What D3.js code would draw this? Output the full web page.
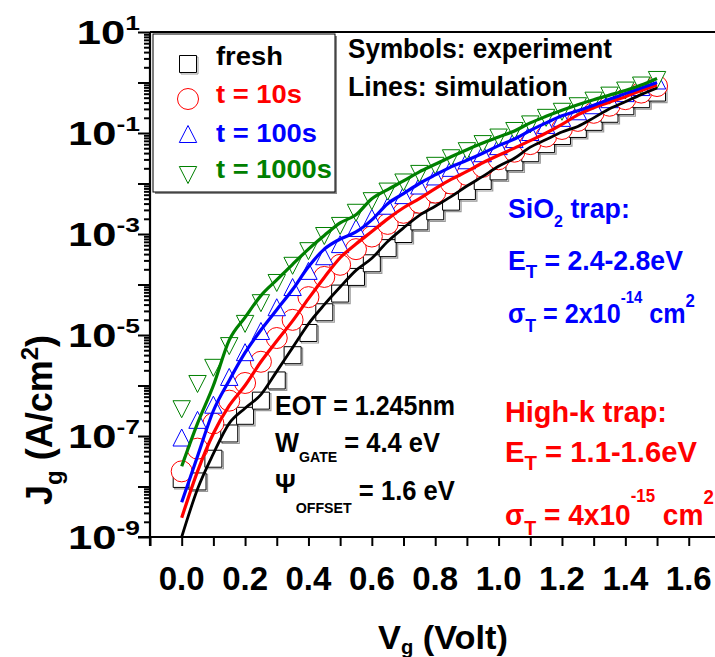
<!DOCTYPE html>
<html>
<head>
<meta charset="utf-8">
<script src="https://cdn.jsdelivr.net/npm/d3@7/dist/d3.min.js"></script>
<style>
  body { margin: 0; background: #fff; }
  text { font-family: "Liberation Sans", Arial, sans-serif; font-weight: bold; }
</style>
</head>
<body>
<svg id="chart" width="715" height="657"></svg>
<script>
// gate voltage (V) of every sample
const voltages = [0.00, 0.05, 0.10, 0.15, 0.20, 0.25, 0.30, 0.35, 0.40, 0.45,
  0.50, 0.55, 0.60, 0.65, 0.70, 0.75, 0.80, 0.85, 0.90, 0.95,
  1.00, 1.05, 1.10, 1.15, 1.20, 1.25, 1.30, 1.35, 1.40, 1.45, 1.50];

// log10(Jg), simulation lines
const simFresh = [-9.00, -8.05, -7.35, -6.75, -6.45, -6.18, -5.72, -5.25, -4.78, -4.40,
  -4.05, -3.72, -3.48, -3.15, -2.88, -2.63, -2.45, -2.26, -2.05, -1.86,
  -1.66, -1.50, -1.28, -1.13, -0.98, -0.87, -0.70, -0.52, -0.38, -0.24, -0.11];
const sim10 = [-8.62, -7.70, -6.95, -6.40, -6.00, -5.53, -5.12, -4.72, -4.28, -3.86,
  -3.47, -3.20, -2.95, -2.70, -2.48, -2.30, -2.10, -1.92, -1.76, -1.59,
  -1.44, -1.30, -1.15, -1.00, -0.83, -0.64, -0.50, -0.39, -0.28, -0.16, -0.05];
const sim100 = [-8.31, -7.40, -6.50, -5.90, -5.35, -4.90, -4.50, -4.10, -3.65, -3.30,
  -3.10, -2.96, -2.72, -2.40, -2.20, -2.00, -1.83, -1.67, -1.54, -1.40,
  -1.25, -1.12, -0.95, -0.80, -0.66, -0.56, -0.45, -0.33, -0.22, -0.11, 0.00];
const sim1000 = [-7.60, -6.75, -6.00, -5.10, -4.65, -4.22, -3.91, -3.60, -3.30, -3.03,
  -2.78, -2.62, -2.30, -2.12, -1.95, -1.77, -1.62, -1.47, -1.33, -1.20,
  -1.08, -0.96, -0.80, -0.67, -0.55, -0.44, -0.34, -0.25, -0.16, -0.05, 0.08];

const expFresh = [-7.85, -7.90, -7.45, -6.95, -6.60, -6.30, -5.90, -5.40, -4.96, -4.55,
  -4.18, -3.85, -3.58, -3.28, -3.00, -2.75, -2.55, -2.36, -2.15, -1.95,
  -1.76, -1.58, -1.40, -1.22, -1.06, -0.92, -0.78, -0.62, -0.47, -0.33, -0.20];
const exp10 = [-7.70, -7.25, -6.75, -6.30, -5.95, -5.53, -5.06, -4.70, -4.25, -3.85,
  -3.61, -3.30, -3.05, -2.80, -2.58, -2.38, -2.18, -2.00, -1.83, -1.67,
  -1.52, -1.37, -1.22, -1.07, -0.92, -0.76, -0.60, -0.46, -0.33, -0.20, -0.07];
const exp100 = [-7.05, -6.70, -6.40, -5.85, -5.36, -4.94, -4.47, -4.07, -3.75, -3.46,
  -3.22, -2.90, -2.70, -2.46, -2.25, -2.06, -1.88, -1.71, -1.56, -1.42,
  -1.28, -1.14, -1.00, -0.86, -0.72, -0.59, -0.47, -0.35, -0.23, -0.11, 0.02];
const exp1000 = [-6.45, -5.95, -5.63, -5.20, -4.76, -4.35, -3.95, -3.61, -3.32, -3.02,
  -2.82, -2.56, -2.33, -2.14, -1.96, -1.79, -1.63, -1.48, -1.34, -1.20,
  -1.07, -0.94, -0.81, -0.68, -0.56, -0.45, -0.34, -0.24, -0.14, -0.04, 0.07];

const seriesNames = ['fresh', 't = 10s', 't = 100s', 't = 1000s'];
const seriesColors = ['#000000', '#ff0000', '#0000ff', '#008000'];
const seriesSymbols = ['square', 'circle', 'triangleUp', 'triangleDown'];

const xTickValues = [0.0, 0.2, 0.4, 0.6, 0.8, 1.0, 1.2, 1.4, 1.6];
const yLabelExponents = [1, -1, -3, -5, -7, -9];

const svg = d3.select('#chart');
const W = 715;
const plotLeft = 150;
const plotTop = 32;
const plotBottom = 537;

const x = d3.scaleLinear().domain([-0.1, 1.9]).range([plotLeft, plotLeft + 633.8]);
const y = d3.scaleLog().domain([1e-9, 10]).range([plotBottom, plotTop]);

svg.append('defs').append('clipPath').attr('id', 'plotClip')
  .append('rect')
  .attr('x', plotLeft).attr('y', plotTop)
  .attr('width', W - plotLeft).attr('height', plotBottom - plotTop);

// symbol path helpers, centred on 0,0
const symbolPath = (kind) => {
  switch (kind) {
    case 'square':
      return 'M-8.5,-8.5H8.5V8.5H-8.5Z';
    case 'circle':
      return 'M-10.5,0A10.5,10.5 0 1,0 10.5,0A10.5,10.5 0 1,0 -10.5,0Z';
    case 'triangleUp':
      return 'M0,-9.5L8.7,7.5H-8.7Z';
    default:
      return 'M0,9.5L8.7,-7.5H-8.7Z';
  }
};

// squeeze / stretch a text horizontally so it spans the given width
const fitWidth = (sel, startX, width) => {
  const w = sel.node().getBBox().width;
  const k = width / w;
  sel.attr('transform', `translate(${startX},0) scale(${k},1) translate(${-startX},0)`);
  return sel;
};

const plot = svg.append('g').attr('clip-path', 'url(#plotClip)');

const expSeries = [expFresh, exp10, exp100, exp1000];
const simSeries = [simFresh, sim10, sim100, sim1000];

// measured symbols
expSeries.forEach((vals, i) => {
  const g = plot.append('g');
  const pts = voltages.map((v, k) => [x(v), y(Math.pow(10, vals[k]))]);
  if (seriesSymbols[i] === 'square') {
    g.selectAll('path.shadow').data(pts).enter().append('path')
      .attr('class', 'shadow')
      .attr('d', symbolPath('square'))
      .attr('transform', (d) => `translate(${d[0] + 1.5},${d[1] + 1.5})`)
      .attr('fill', 'none').attr('stroke', '#999').attr('stroke-width', 1.2);
  }
  g.selectAll('path.sym').data(pts).enter().append('path')
    .attr('class', 'sym')
    .attr('d', symbolPath(seriesSymbols[i]))
    .attr('transform', (d) => `translate(${d[0]},${d[1]})`)
    .attr('fill', '#fff')
    .attr('stroke', seriesColors[i])
    .attr('stroke-width', 1);
});

// simulation lines
const line = d3.line()
  .x((d) => x(d[0]))
  .y((d) => y(Math.pow(10, d[1])))
  .curve(d3.curveMonotoneX);
simSeries.forEach((vals, i) => {
  plot.append('path')
    .datum(voltages.map((v, k) => [v, vals[k]]))
    .attr('d', line)
    .attr('fill', 'none')
    .attr('stroke', seriesColors[i])
    .attr('stroke-width', i === 0 ? 2.8 : 3.2);
});

// frame
svg.append('line').attr('x1', plotLeft).attr('x2', W).attr('y1', plotTop).attr('y2', plotTop)
  .attr('stroke', '#000').attr('stroke-width', 2);

// x axis
const xMinor = d3.range(-1, 18).map((k) => k / 10);
const xAxis = d3.axisBottom(x).tickValues(xMinor).tickSize(9).tickFormat('');
svg.append('g').attr('transform', `translate(0,${plotBottom})`).call(xAxis)
  .call((g) => g.select('.domain').attr('stroke-width', 2.2).attr('d', `M${plotLeft - 12},0H${W}`))
  .call((g) => g.selectAll('.tick line').attr('stroke-width', 2));

svg.append('g').selectAll('text').data(xTickValues).enter().append('text')
  .attr('x', (d) => x(d))
  .attr('y', 590)
  .attr('text-anchor', 'middle')
  .attr('font-size', 33)
  .text((d) => d.toFixed(1));

// y axis: major decade ticks and minor ticks
const yMajor = d3.range(-9, 2).map((e) => Math.pow(10, e));
const yMinor = [];
d3.range(-9, 1).forEach((e) => {
  d3.range(2, 10).forEach((m) => yMinor.push(m * Math.pow(10, e)));
});
svg.append('g').attr('transform', `translate(${plotLeft},0)`)
  .call(d3.axisLeft(y).tickValues(yMinor).tickSize(6).tickFormat(''))
  .call((g) => g.select('.domain').remove())
  .call((g) => g.selectAll('.tick line').attr('stroke-width', 2));
svg.append('g').attr('transform', `translate(${plotLeft},0)`)
  .call(d3.axisLeft(y).tickValues(yMajor).tickSize(12).tickFormat(''))
  .call((g) => g.select('.domain').attr('stroke-width', 2.2).attr('d', `M0,${plotTop}V${plotBottom + 9}`))
  .call((g) => g.selectAll('.tick line').attr('stroke-width', 2));

const yLab = svg.append('g').selectAll('text').data(yLabelExponents).enter().append('text')
  .attr('transform', (d) => `translate(140,${y(Math.pow(10, d)) + 12}) scale(1.32,1)`)
  .attr('text-anchor', 'end')
  .attr('font-size', 33);
yLab.append('tspan').text('10');
yLab.append('tspan').attr('dy', -14).attr('font-size', 20).text((d) => (d < 0 ? `-${-d}` : `${d}`));

// axis titles
const xTitle = svg.append('text').attr('x', 378).attr('y', 649).attr('font-size', 34);
xTitle.append('tspan').text('V');
xTitle.append('tspan').attr('dy', 5).attr('font-size', 20).text('g');
xTitle.append('tspan').attr('dy', -5).text(' (Volt)');
fitWidth(xTitle, 378, 130);

const yTitle = svg.append('text')
  .attr('transform', 'translate(52,505) rotate(-90)')
  .attr('font-size', 36);
yTitle.append('tspan').text('J');
yTitle.append('tspan').attr('dy', 10).attr('font-size', 24).text('g');
yTitle.append('tspan').attr('dy', -10).text(' (A/cm');
yTitle.append('tspan').attr('dy', -14).attr('font-size', 24).text('2');
yTitle.append('tspan').attr('dy', 14).text(')');

// legend
const legend = svg.append('g');
legend.append('rect').attr('x', 155).attr('y', 36).attr('width', 182).attr('height', 158)
  .attr('fill', '#888');
legend.append('rect').attr('x', 153).attr('y', 34).attr('width', 182).attr('height', 158)
  .attr('fill', '#fff').attr('stroke', '#000').attr('stroke-width', 1);
const legendRowY = [64, 99, 135, 174];
const legendTextY = [65, 103, 142, 178];
const legendTextW = [67, 86, 101, 116];
seriesNames.forEach((name, i) => {
  if (i === 0) {
    legend.append('path').attr('d', symbolPath('square'))
      .attr('transform', `translate(${188 + 1.5},${legendRowY[i] + 1.5})`)
      .attr('fill', 'none').attr('stroke', '#999');
  }
  legend.append('path').attr('d', symbolPath(seriesSymbols[i]))
    .attr('transform', `translate(188,${legendRowY[i]})`)
    .attr('fill', '#fff').attr('stroke', seriesColors[i]).attr('stroke-width', 1);
  const t = legend.append('text').attr('x', 216).attr('y', legendTextY[i])
    .attr('font-size', 26).attr('fill', seriesColors[i]).text(name);
  fitWidth(t, 216, legendTextW[i]);
});

// annotations
const note = (xx, yy, size, color) => svg.append('text')
  .attr('x', xx).attr('y', yy).attr('font-size', size).attr('fill', color);

fitWidth(note(348, 58, 27, '#000').text('Symbols: experiment'), 348, 264);
fitWidth(note(348, 96, 27, '#000').text('Lines: simulation'), 348, 220);

const sio2 = note(508, 218, 27, '#0000ff');
sio2.append('tspan').text('SiO');
sio2.append('tspan').attr('dy', 9).attr('font-size', 16).text('2');
sio2.append('tspan').attr('dy', -9).text(' trap:');
fitWidth(sio2, 508, 122);

const et1 = note(508, 270, 27, '#0000ff');
et1.append('tspan').text('E');
et1.append('tspan').attr('dy', 8).attr('font-size', 19).text('T');
et1.append('tspan').attr('dy', -8).text(' = 2.4-2.8eV');
fitWidth(et1, 508, 175);

const sg1 = note(508, 323, 27, '#0000ff');
sg1.append('tspan').text('\u03c3');
sg1.append('tspan').attr('dy', 9).attr('font-size', 19).text('T');
sg1.append('tspan').attr('dy', -9).text(' = 2x10');
sg1.append('tspan').attr('dy', -20).attr('font-size', 16).text('-14');
sg1.append('tspan').attr('dy', 20).text(' cm');
sg1.append('tspan').attr('dy', -16).attr('font-size', 18).text('2');
fitWidth(sg1, 508, 187);

fitWidth(note(505, 422, 30, '#ff0000').text('High-k trap:'), 505, 162);
const et2 = note(505, 462, 30, '#ff0000');
et2.append('tspan').text('E');
et2.append('tspan').attr('dy', 8).attr('font-size', 21).text('T');
et2.append('tspan').attr('dy', -8).text(' = 1.1-1.6eV');
fitWidth(et2, 505, 192);

const sg2 = note(505, 525, 30, '#ff0000');
sg2.append('tspan').text('\u03c3');
sg2.append('tspan').attr('dy', 10).attr('font-size', 21).text('T');
sg2.append('tspan').attr('dy', -10).text(' = 4x10');
sg2.append('tspan').attr('dy', -23).attr('font-size', 18).text('-15');
sg2.append('tspan').attr('dy', 23).text(' cm');
sg2.append('tspan').attr('dy', -21).attr('font-size', 20).text('2');
fitWidth(sg2, 505, 209);

fitWidth(note(275, 415, 27, '#000').text('EOT = 1.245nm'), 275, 180);
const wg = note(275, 452, 27, '#000');
wg.append('tspan').text('W');
wg.append('tspan').attr('dy', 10).attr('font-size', 15).text('GATE');
wg.append('tspan').attr('dy', -10).text(' = 4.4 eV');
fitWidth(wg, 275, 165);
const psi = note(275, 493, 27, '#000');
psi.append('tspan').text('\u03a8');
psi.append('tspan').attr('dy', 20).attr('font-size', 15).text('OFFSET');
psi.append('tspan').attr('dy', -13).text(' = 1.6 eV');
fitWidth(psi, 275, 180);
</script>
</body>
</html>
